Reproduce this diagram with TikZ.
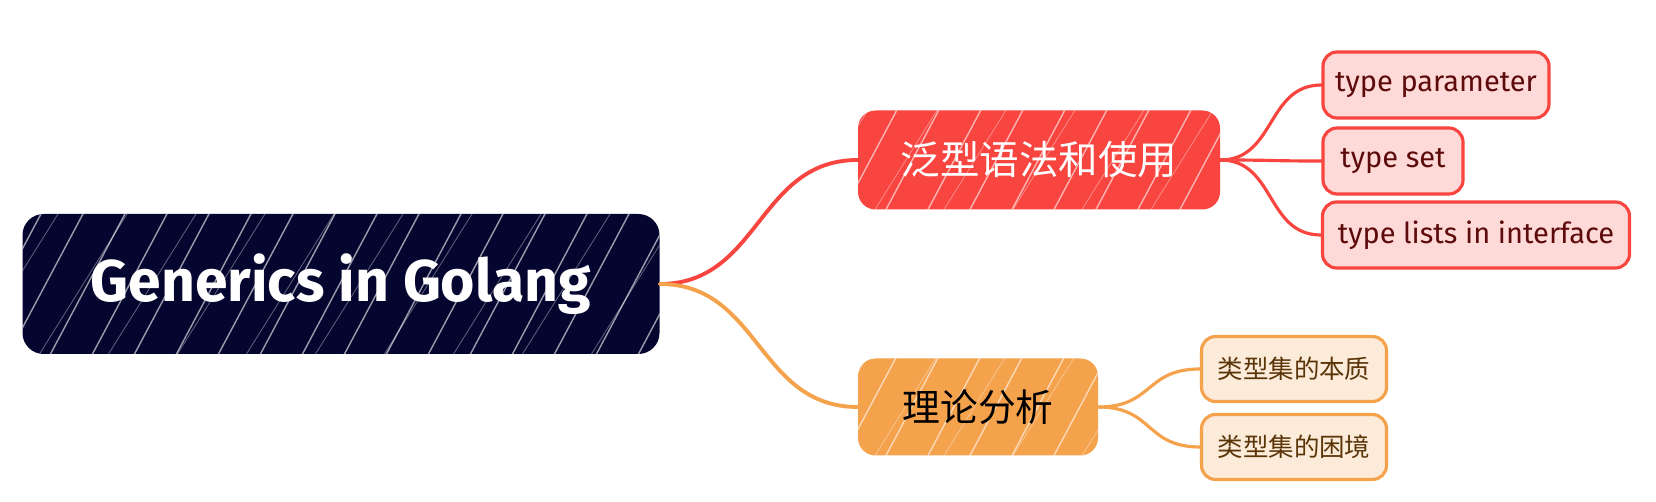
\documentclass[tikz,border=0pt]{standalone}
\usepackage{fontspec}
\setmainfont{Fira Sans}
\newfontfamily\cjk{Noto Sans CJK SC}
\usetikzlibrary{calc}

\definecolor{rootnavy}{HTML}{05062F}
\definecolor{syntaxred}{HTML}{F8453F}
\definecolor{syntaxpink}{HTML}{FDD9D7}
\definecolor{syntaxtext}{HTML}{5C0A0A}
\definecolor{theoryorange}{HTML}{F5A24C}
\definecolor{theorycream}{HTML}{FDEBDA}
\definecolor{theorytext}{HTML}{5A3508}

\begin{document}
\begin{tikzpicture}[
  x=0.02cm, y=-0.02cm,
  hatch/.style = {path picture={
    \foreach \s in {-140,-98,...,700}
      \draw[white, opacity=0.6, line width=0.8pt]
        ($(path picture bounding box.south west)+(\s,0)$) -- ++(-62:260);
    \foreach \s in {-121,-52,...,700}
      \draw[white, opacity=0.35, line width=0.5pt]
        ($(path picture bounding box.south west)+(\s,0)$) -- ++(-58:260);
  }},
  root node/.style   = {fill=rootnavy, rounded corners=12pt, inner sep=0pt,
                        text=white, font=\bfseries\fontsize{33.5}{40}\selectfont, hatch},
  main node/.style   = {rounded corners=10pt, inner sep=0pt, hatch},
  leaf node/.style   = {rounded corners=8pt, inner sep=0pt, line width=1.8pt},
  root edge/.style   = {line width=2.2pt, line cap=round},
  leaf edge/.style   = {line width=1.8pt, line cap=round},
]
\def\px{0.02cm}
\useasboundingbox (0,0) rectangle (1656,502);

% ── Root ───────────────────────────────────────────────────────────────────
\node[root node, minimum width=637*\px, minimum height=140*\px]
  (root) at (341,284) {Generics in Golang};

% ── First level ────────────────────────────────────────────────────────────
\node[main node, fill=syntaxred, text=white,
      minimum width=362*\px, minimum height=99*\px,
      font=\cjk\fontsize{22.5}{26}\selectfont]
  (syntax) at (1039,160) {泛型语法和使用};

\node[main node, fill=theoryorange, text=black,
      minimum width=240*\px, minimum height=97*\px,
      font=\cjk\fontsize{21.5}{25}\selectfont]
  (theory) at (978,407) {理论分析};

% ── Leaves (syntax) ────────────────────────────────────────────────────────
\tikzset{syntax leaf/.style={leaf node, draw=syntaxred, fill=syntaxpink,
  text=syntaxtext, minimum height=66*\px, font=\fontsize{16.5}{20}\selectfont}}

\node[syntax leaf, minimum width=226*\px] (typeparam) at (1436,85)  {type parameter};
\node[syntax leaf, minimum width=140*\px] (typeset)   at (1393,161) {type set};
\node[syntax leaf, minimum width=307*\px] (typelists) at (1476,235) {type lists in interface};

% ── Leaves (theory) ────────────────────────────────────────────────────────
\tikzset{theory leaf/.style={leaf node, draw=theoryorange, fill=theorycream,
  text=theorytext, minimum width=185*\px, minimum height=65*\px,
  font=\cjk\fontsize{14.5}{17}\selectfont}}

\node[theory leaf] (setnature)  at (1294,369) {类型集的本质};
\node[theory leaf] (setdilemma) at (1294,447) {类型集的困境};

% ── Connectors ─────────────────────────────────────────────────────────────
\draw[root edge, syntaxred]
  (root.east) .. controls +(100,0) and +(-100,0) .. (syntax.west);
\draw[root edge, theoryorange]
  (root.east) .. controls +(100,0) and +(-100,0) .. (theory.west);

\foreach \leaf in {typeparam, typeset, typelists}
  \draw[leaf edge, syntaxred]
    (syntax.east) .. controls +(55,0) and +(-55,0) .. (\leaf.west);

\foreach \leaf in {setnature, setdilemma}
  \draw[leaf edge, theoryorange]
    (theory.east) .. controls +(55,0) and +(-55,0) .. (\leaf.west);

\end{tikzpicture}
\end{document}
